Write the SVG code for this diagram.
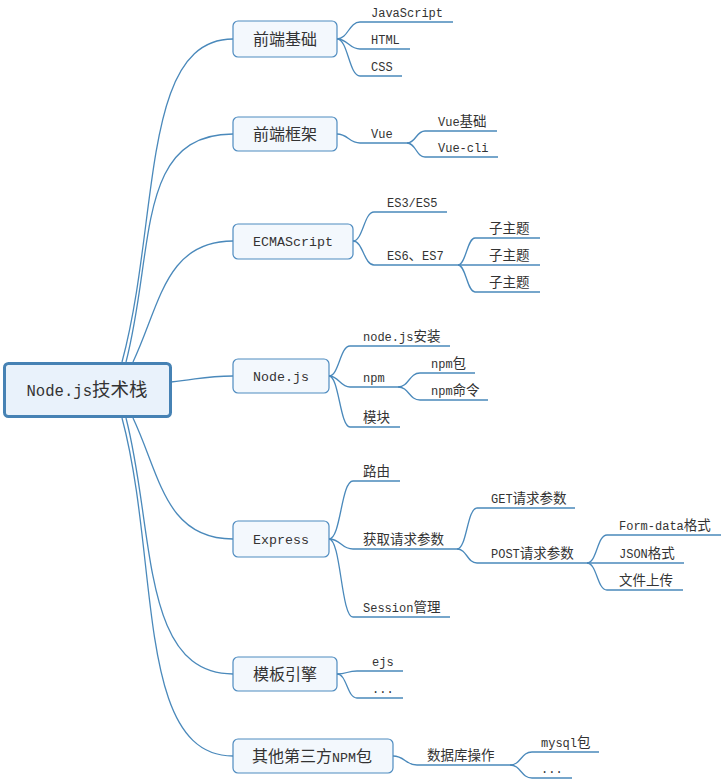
<svg xmlns="http://www.w3.org/2000/svg" width="721" height="780" viewBox="0 0 721 780">
<style>
.bg{fill:#ffffff}
.n rect{fill:#f3f8fd;stroke:#4f8cc0;stroke-width:1.2}
#root rect{fill:#e9f2fb;stroke:#4682b4;stroke-width:3}
.t{font-family:"Liberation Mono","Noto Sans CJK SC",monospace;fill:#333333}
.c{font-family:"Noto Sans CJK SC",sans-serif}
.s{font-size:12px}
.s .c{font-size:13.5px}
.m{font-size:13.3px;text-anchor:middle}
.m .c{font-size:16px}
.r{font-size:15.6px;text-anchor:middle}
.r .c{font-size:18.5px}
#connectors path{fill:none;stroke:#4a89bb;stroke-width:1.3}
</style>
<rect class="bg" x="0" y="0" width="721" height="780"/>
<g id="connectors">
<path d="M122,362 C160,220 140,39 233,39"/>
<path d="M126,362 C155,250 135,134 233,134"/>
<path d="M133,362 C160,305 165,241 233,241"/>
<path d="M171,382 C200,379 205,376 233,376"/>
<path d="M133,418 C160,475 165,539 233,539"/>
<path d="M126,418 C155,530 140,674 233,674"/>
<path d="M122,418 C160,560 135,756 233,756"/>
<path d="M337,39 C348,39 349,22 360,22 H453"/>
<path d="M337,39 C348,39 349,49 360,49 H410"/>
<path d="M337,39 C348,39 349,76 360,76 H402"/>
<path d="M337,134 C348,134 349,143 360,143 H407"/>
<path d="M407,143 C416,143 416,131 425,131 H497"/>
<path d="M407,143 C416,143 416,157 425,157 H498"/>
<path d="M353,241 C363,241 364,212 374,212 H447"/>
<path d="M353,241 C363,241 364,265 374,265 H458"/>
<path d="M458,265 C466,265 467,238 475,238 H540"/>
<path d="M458,265 H540"/>
<path d="M458,265 C466,265 467,292 475,292 H540"/>
<path d="M329,376 C339,376 340,346 350,346 H450"/>
<path d="M329,376 C339,376 340,387 350,387 H398"/>
<path d="M329,376 C339,376 340,427 350,427 H400"/>
<path d="M398,387 C409,387 409,373 420,373 H475"/>
<path d="M398,387 C409,387 409,400 420,400 H488"/>
<path d="M329,539 C341,539 341,481 353,481 H400"/>
<path d="M329,539 C341,539 341,549 353,549 H457"/>
<path d="M329,539 C341,539 341,617 353,617 H450"/>
<path d="M457,549 C467,549 467,508 477,508 H575"/>
<path d="M457,549 C467,549 467,563 477,563 H587"/>
<path d="M587,563 C597,563 597,535 607,535 H721"/>
<path d="M587,563 H684"/>
<path d="M587,563 C597,563 597,590 607,590 H683"/>
<path d="M337,674 C347,674 347,671 357,671 H403"/>
<path d="M337,674 C347,674 347,698 357,698 H403"/>
<path d="M393,756 C405,756 405,765 417,765 H510"/>
<path d="M510,765 C521,765 521,752 532,752 H599"/>
<path d="M510,765 C521,765 521,778 532,778 H572"/>
</g>
<g id="root"><rect x="4.5" y="363.5" width="166" height="53" rx="4"/><text class="t r" x="87" y="396">Node.js<tspan class="c">技术栈</tspan></text></g>
<g id="n1" class="n"><rect x="233" y="21" width="104" height="36" rx="5"/><text class="t m" x="285" y="44.5"><tspan class="c">前端基础</tspan></text></g>
<g id="n2" class="n"><rect x="233" y="117" width="104" height="34" rx="5"/><text class="t m" x="285" y="139.5"><tspan class="c">前端框架</tspan></text></g>
<g id="n3" class="n"><rect x="233" y="224" width="120" height="35" rx="5"/><text class="t m" x="293" y="246">ECMAScript</text></g>
<g id="n4" class="n"><rect x="233" y="359" width="96" height="34" rx="5"/><text class="t m" x="281" y="381">Node.js</text></g>
<g id="n5" class="n"><rect x="233" y="521" width="96" height="36" rx="5"/><text class="t m" x="281" y="544">Express</text></g>
<g id="n6" class="n"><rect x="233" y="657" width="104" height="34" rx="5"/><text class="t m" x="285" y="679.5"><tspan class="c">模板引擎</tspan></text></g>
<g id="n7" class="n"><rect x="233" y="739" width="160" height="34" rx="5"/><text class="t m" x="312" y="761.5"><tspan class="c">其他第三方</tspan>NPM<tspan class="c">包</tspan></text></g>
<g id="labels">
<text class="t s" x="371" y="17">JavaScript</text>
<text class="t s" x="371" y="44">HTML</text>
<text class="t s" x="371" y="71">CSS</text>
<text class="t s" x="371" y="138">Vue</text>
<text class="t s" x="438" y="126">Vue<tspan class="c">基础</tspan></text>
<text class="t s" x="438" y="152">Vue-cli</text>
<text class="t s" x="387" y="207">ES3/ES5</text>
<text class="t s" x="387" y="260">ES6<tspan class="c">、</tspan>ES7</text>
<text class="t s" x="489" y="233"><tspan class="c">子主题</tspan></text>
<text class="t s" x="489" y="260"><tspan class="c">子主题</tspan></text>
<text class="t s" x="489" y="287"><tspan class="c">子主题</tspan></text>
<text class="t s" x="363" y="341">node.js<tspan class="c">安装</tspan></text>
<text class="t s" x="363" y="382">npm</text>
<text class="t s" x="363" y="422"><tspan class="c">模块</tspan></text>
<text class="t s" x="431" y="368">npm<tspan class="c">包</tspan></text>
<text class="t s" x="431" y="395">npm<tspan class="c">命令</tspan></text>
<text class="t s" x="363" y="476"><tspan class="c">路由</tspan></text>
<text class="t s" x="363" y="544"><tspan class="c">获取请求参数</tspan></text>
<text class="t s" x="363" y="612">Session<tspan class="c">管理</tspan></text>
<text class="t s" x="491" y="503">GET<tspan class="c">请求参数</tspan></text>
<text class="t s" x="491" y="558">POST<tspan class="c">请求参数</tspan></text>
<text class="t s" x="619" y="530">Form-data<tspan class="c">格式</tspan></text>
<text class="t s" x="619" y="558">JSON<tspan class="c">格式</tspan></text>
<text class="t s" x="619" y="585"><tspan class="c">文件上传</tspan></text>
<text class="t s" x="372" y="666">ejs</text>
<text class="t s" x="372" y="693">...</text>
<text class="t s" x="427" y="760"><tspan class="c">数据库操作</tspan></text>
<text class="t s" x="541" y="747">mysql<tspan class="c">包</tspan></text>
<text class="t s" x="541" y="773">...</text>
</g>
</svg>
